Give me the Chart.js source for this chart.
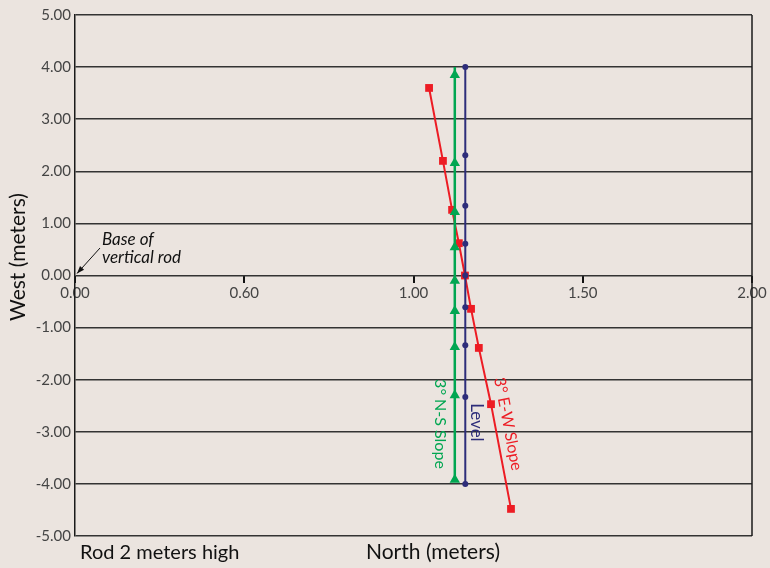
<!DOCTYPE html>
<html>
<head>
<meta charset="utf-8">
<title>Rod positions</title>
<script src="https://cdn.jsdelivr.net/npm/chart.js@4/dist/chart.umd.min.js"></script>
<style>
  body { margin: 0; background: #ebe4df; }
  #chart { display: block; }
</style>
</head>
<body>
<canvas id="chart" width="770" height="568"></canvas>
<script>
// ==============================
// Data
// ==============================
const xTickLabels = ["0.00", "0.60", "1.00", "1.50", "2.00"];

// Level (navy dots)
const levelX = [1.153, 1.153, 1.153, 1.153, 1.153, 1.153, 1.153, 1.153, 1.153];
const levelY = [4.00, 2.31, 1.34, 0.61, 0.00, -0.61, -1.34, -2.33, -4.00];

// 3° N-S slope (green triangles), first point is the line's top end
const nsX = [1.122, 1.122, 1.122, 1.122, 1.122, 1.122, 1.122, 1.122, 1.122, 1.122];
const nsY = [4.00, 3.85, 2.16, 1.22, 0.54, -0.10, -0.68, -1.37, -2.30, -3.92];

// 3° E-W slope (red squares)
const ewX = [1.046, 1.087, 1.114, 1.134, 1.152, 1.170, 1.193, 1.229, 1.288];
const ewY = [3.60, 2.20, 1.26, 0.62, 0.00, -0.64, -1.39, -2.47, -4.48];

const FONT = "Lato, 'Open Sans', sans-serif";

function toPoints(xs, ys) {
  return xs.map((x, i) => ({ x: x, y: ys[i] }));
}

// ==============================
// Extra drawing: frame, captions, arrow
// ==============================
const decorations = {
  id: "decorations",
  afterDraw(chart) {
    const ctx = chart.ctx;
    const area = chart.chartArea;
    const xs = chart.scales.x;
    const ys = chart.scales.y;
    ctx.save();

    // right border of the frame
    ctx.strokeStyle = "#1a1a1a";
    ctx.lineWidth = 1.5;
    ctx.beginPath();
    ctx.moveTo(area.right, area.top);
    ctx.lineTo(area.right, area.bottom);
    ctx.stroke();

    // y axis title
    ctx.fillStyle = "#111";
    ctx.font = "21px " + FONT;
    ctx.textAlign = "center";
    ctx.textBaseline = "middle";
    ctx.save();
    ctx.translate(18, 257);
    ctx.rotate(-Math.PI / 2);
    ctx.fillText("West (meters)", 0, 0);
    ctx.restore();

    // bottom captions
    ctx.textAlign = "left";
    ctx.textBaseline = "alphabetic";
    ctx.font = "20px " + FONT;
    ctx.fillText("Rod 2 meters high", 80, 559);
    ctx.font = "21px " + FONT;
    ctx.fillText("North (meters)", 366, 559);

    // base of rod note
    ctx.font = "italic 17px " + FONT;
    ctx.fillStyle = "#111";
    ctx.fillText("Base of", 102, 245);
    ctx.fillText("vertical rod", 102, 263);

    const x0 = xs.getPixelForValue(0);
    const y0 = ys.getPixelForValue(0);
    ctx.strokeStyle = "#111";
    ctx.lineWidth = 1;
    ctx.beginPath();
    ctx.moveTo(100, 248);
    ctx.lineTo(x0 + 2, y0 - 2);
    ctx.stroke();
    const ang = Math.atan2(y0 - 2 - 248, x0 + 2 - 100);
    ctx.beginPath();
    ctx.moveTo(x0 + 2, y0 - 2);
    ctx.lineTo(x0 + 2 - 8 * Math.cos(ang - 0.35), y0 - 2 - 8 * Math.sin(ang - 0.35));
    ctx.lineTo(x0 + 2 - 8 * Math.cos(ang + 0.35), y0 - 2 - 8 * Math.sin(ang + 0.35));
    ctx.closePath();
    ctx.fillStyle = "#111";
    ctx.fill();

    // series captions
    ctx.font = "16px " + FONT;
    ctx.textAlign = "center";
    ctx.textBaseline = "middle";

    ctx.save();
    ctx.fillStyle = "#00a651";
    ctx.translate(xs.getPixelForValue(1.122) - 15, ys.getPixelForValue(-2.85));
    ctx.rotate(Math.PI / 2);
    ctx.fillText("3° N-S Slope", 0, 0);
    ctx.restore();

    ctx.save();
    ctx.fillStyle = "#2e2d7a";
    ctx.font = "17px " + FONT;
    ctx.translate(xs.getPixelForValue(1.153) + 11, ys.getPixelForValue(-2.82));
    ctx.rotate(Math.PI / 2);
    ctx.fillText("Level", 0, 0);
    ctx.restore();

    ctx.save();
    ctx.fillStyle = "#ed1c24";
    const lx = xs.getPixelForValue(1.229);
    const ly = ys.getPixelForValue(-2.85);
    ctx.translate(lx + 17, ly);
    ctx.rotate(Math.atan2(ys.getPixelForValue(-4.48) - ys.getPixelForValue(-2.47),
                          xs.getPixelForValue(1.288) - xs.getPixelForValue(1.229)));
    ctx.fillText("3° E-W Slope", 0, 0);
    ctx.restore();

    ctx.restore();
  }
};

// ==============================
// Chart
// ==============================
const ctx = document.getElementById("chart").getContext("2d");
new Chart(ctx, {
  type: "scatter",
  data: {
    datasets: [
      {
        label: "3° N-S Slope",
        data: toPoints(nsX, nsY),
        showLine: true,
        borderColor: "#00a651",
        backgroundColor: "#00a651",
        borderWidth: 2.5,
        pointStyle: "triangle",
        pointRadius: nsY.map((_, i) => (i === 0 ? 0 : 6)),
        pointBorderWidth: 0
      },
      {
        label: "Level",
        data: toPoints(levelX, levelY),
        showLine: true,
        borderColor: "#2e2d7a",
        backgroundColor: "#2e2d7a",
        borderWidth: 2,
        pointStyle: "circle",
        pointRadius: 3,
        pointBorderWidth: 0
      },
      {
        label: "3° E-W Slope",
        data: toPoints(ewX, ewY),
        showLine: true,
        borderColor: "#ed1c24",
        backgroundColor: "#ed1c24",
        borderWidth: 2,
        pointStyle: "rect",
        pointRadius: 5.5,
        pointBorderWidth: 0
      }
    ]
  },
  options: {
    responsive: false,
    animation: false,
    devicePixelRatio: 1,
    layout: { padding: { left: 0, right: 18, top: 15, bottom: 32 } },
    plugins: {
      legend: { display: false },
      tooltip: { enabled: false }
    },
    scales: {
      x: {
        type: "linear",
        position: { y: 0 },
        min: 0,
        max: 2,
        ticks: {
          stepSize: 0.5,
          color: "#444",
          font: { family: FONT, size: 15 },
          padding: 2,
          callback: (value, index) => xTickLabels[index]
        },
        grid: {
          drawOnChartArea: false,
          drawTicks: true,
          tickLength: 7,
          color: "#111",
          lineWidth: 2
        },
        border: { display: false }
      },
      y: {
        min: -5,
        max: 5,
        afterFit: (scale) => { scale.width = 75; },
        ticks: {
          stepSize: 1,
          color: "#444",
          font: { family: FONT, size: 15 },
          padding: 4,
          callback: (value) => value.toFixed(2)
        },
        grid: {
          drawTicks: false,
          color: "#333",
          lineWidth: 1.5
        },
        border: { display: true, color: "#1a1a1a", width: 1.5 }
      }
    }
  },
  plugins: [decorations]
});
</script>
</body>
</html>
